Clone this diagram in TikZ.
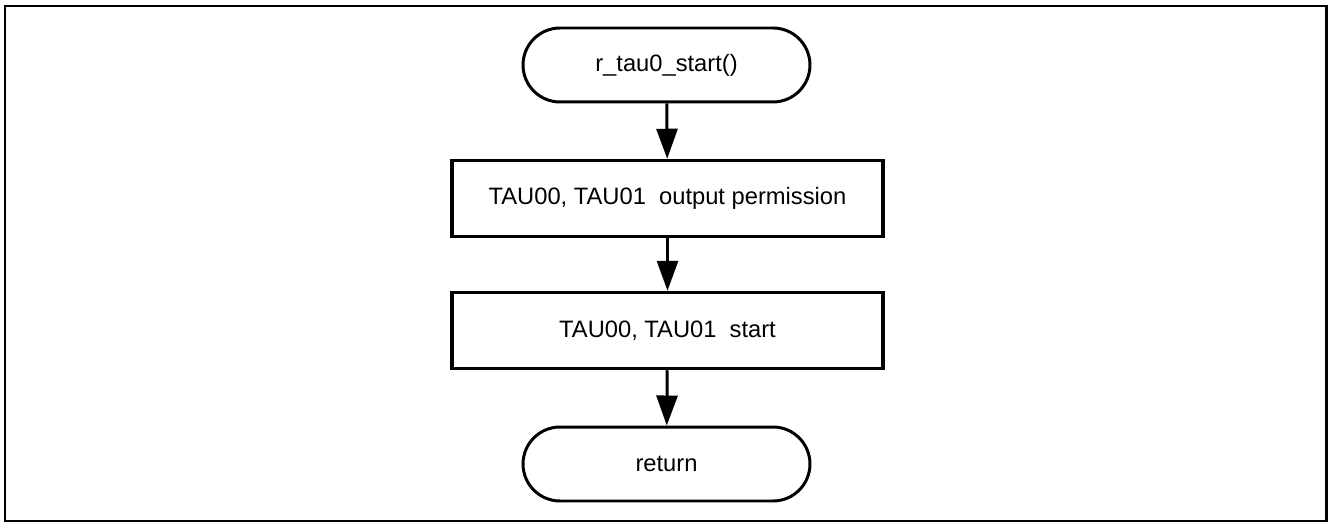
\documentclass[tikz,border=0pt]{standalone}
\usepackage{fontspec}
\setmainfont{Liberation Sans}
\usepackage{tikz}
\usetikzlibrary{arrows.meta,positioning}
\tikzset{
    terminal/.style={rectangle, rounded corners=0.74cm, draw, line width=1.7pt,
                     minimum width=5.74cm, minimum height=1.48cm, font=\fontsize{13.5}{16}\selectfont},
    process/.style={rectangle, draw, line width=2pt,
                    minimum width=8.62cm, minimum height=1.52cm, font=\fontsize{13.5}{16}\selectfont},
    flow/.style={draw, line width=1.7pt, -{Triangle[length=6mm, width=4.2mm]}},
    frame/.style={draw, line width=1.7pt}
}
\begin{document}
\begin{tikzpicture}[x=0.02cm, y=-0.02cm]
    \useasboundingbox (0,0) rectangle (1328,523);
    \draw[frame] (5,6) rectangle (1326,521);

    % Nodes
    \node[terminal] (start) at (666.5,65) {r\_tau0\_start()};
    \node[process] (perm) at (667.5,198.5) {TAU00, TAU01~ output permission};
    \node[process] (run) at (667.5,330.5) {TAU00, TAU01~ start};
    \node[terminal] (ret) at (666.5,464) {return};

    % edges
    \draw[flow] (start) -- (perm);
    \draw[flow] (perm) -- (run);
    \draw[flow] (run) -- (ret);
\end{tikzpicture}
\end{document}
